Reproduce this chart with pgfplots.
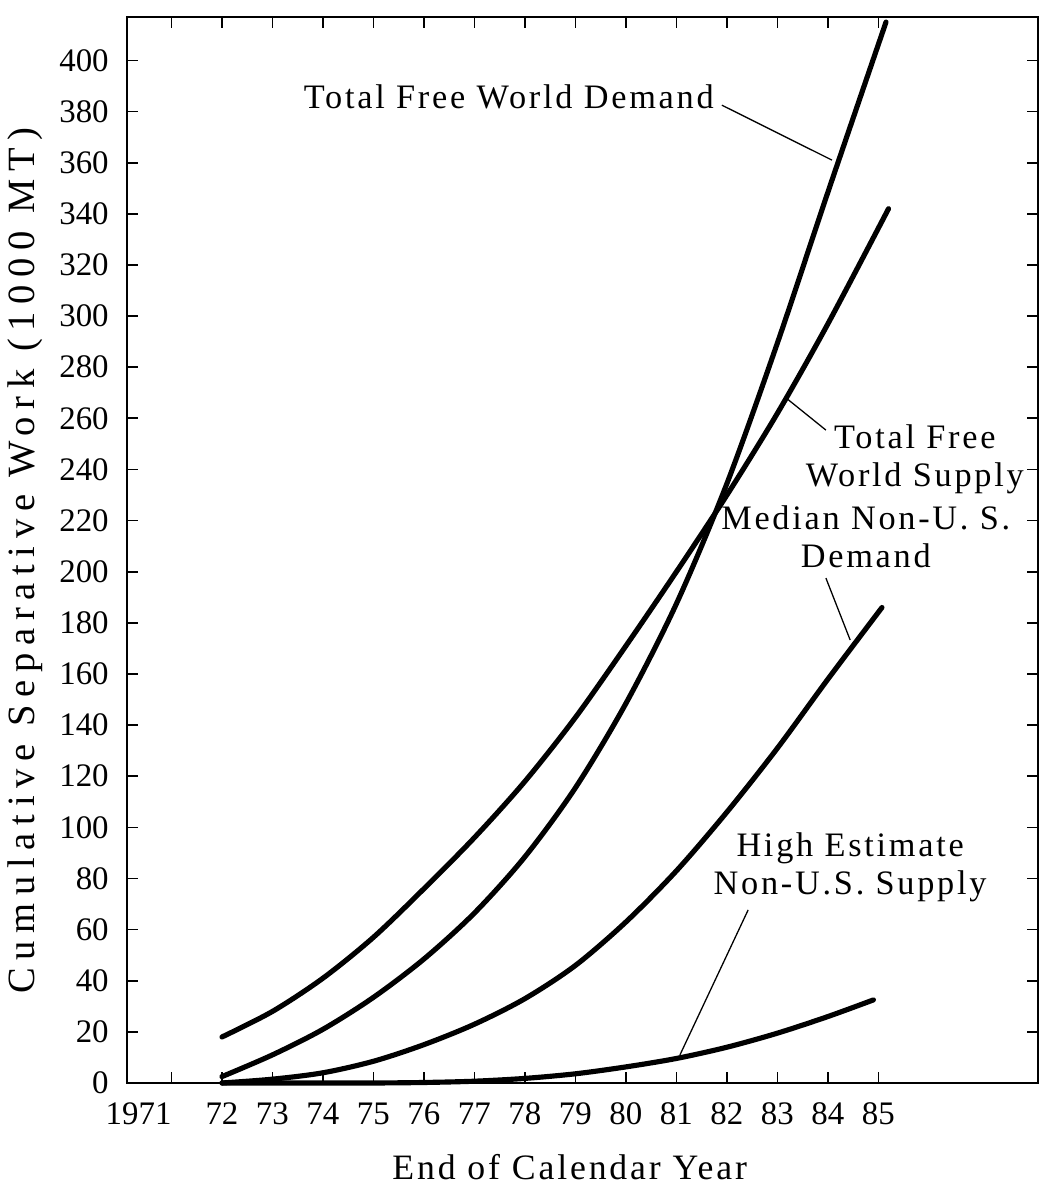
\documentclass[border=0pt]{standalone}
\usepackage{fontspec}
\setmainfont{Liberation Serif}
\newfontfamily\notefont{Liberation Serif}[LetterSpace=8]
\newfontfamily\ylabfont{Liberation Serif}[LetterSpace=20]
\usepackage{pgfplots}
\usepackage{pgfplotstable}
\pgfplotsset{compat=1.18}

% Cumulative separative work, thousands of MT, at end of calendar year
\pgfplotstableread{
year  val
1972  2.5
1973  11
1974  21
1975  33.5
1976  48.5
1977  66.5
1978  88.5
1979  115.5
1980  148.5
1981  187.5
1982  234.5
1983  289.5
1984  348.5
1985.15 415
}\totaldemand

\pgfplotstableread{
year  val
1972  18
1973  28
1974  41
1975  57
1976  76
1977  96
1978  118
1979  143
1980  171
1981  200
1982  230
1983  262
1984  297
1985.2 342
}\totalsupply

\pgfplotstableread{
year  val
1972  0
1973  1.5
1974  4
1975  8.5
1976  15
1977  23
1978  33
1979  46
1980  63
1981  83
1982  106
1983  131
1984  158
1985.07 186
}\mediandemand

\pgfplotstableread{
year  val
1972  0
1973  0
1974  0
1975  0
1976  0.2
1977  0.7
1978  1.8
1979  3.6
1980  6.3
1981  9.6
1982  14
1983  19.5
1984  26
1984.9 32.5
}\highsupply

\begin{document}
\begin{tikzpicture}
\begin{axis}[
  at={(0pt,0pt)}, anchor=south west,
  scale only axis, width=318.85pt, height=373.1pt,
  xmin=1970.12, xmax=1988.16, ymin=0, ymax=417,
  xtick={1971,1972,...,1985},
  xticklabels={\makebox[0pt][r]{1971},72,73,74,75,76,77,78,79,80,81,82,83,84,85},
  ytick={0,20,...,400},
  tick align=inside,
  major tick length=4pt,
  axis line style={line width=1pt},
  every tick/.style={black, line width=0.6pt},
  tick label style={font=\fontsize{11.5}{13}\selectfont},
  /pgf/number format/assume math mode=true,
  yticklabel style={xshift=-2.9pt},
  xticklabel style={yshift=-3.5pt},
  xlabel={End of Calendar Year},
  ylabel={Cumulative Separative Work (1000 MT)},
  every axis x label/.style={at={(axis description cs:0.486,-0.079)}, anchor=center,
    font=\notefont\fontsize{12.5}{14}\selectfont},
  every axis y label/.style={at={(axis description cs:-0.112,0.49)}, rotate=90, anchor=center,
    font=\ylabfont\fontsize{13.5}{15}\selectfont},
  clip=false,
  curve/.style={black, no marks, line width=1.8pt, line cap=round, smooth},
]
\addplot[curve] table[x=year, y=val] {\totaldemand};
\addplot[curve] table[x=year, y=val] {\totalsupply};
\addplot[curve] table[x=year, y=val] {\mediandemand};
\addplot[curve] table[x=year, y=val] {\highsupply};

% curve labels and their leader lines
\tikzset{note/.style={font=\notefont\fontsize{12}{13.3}\selectfont, align=center, anchor=center}}
\node[note] at (axis cs:1977.68,385.6) {Total Free World Demand};
\draw[line width=0.45pt] (axis cs:1981.9,382.5) -- (axis cs:1984.08,361);

\node[note] at (axis cs:1985.72,244) {Total Free\\World Supply};
\draw[line width=0.45pt] (axis cs:1983.15,268.3) -- (axis cs:1983.96,255.4);

\node[note] at (axis cs:1984.75,213.5) {Median Non-U. S.\\Demand};
\draw[line width=0.45pt] (axis cs:1983.96,197.5) -- (axis cs:1984.44,173.3);

\node[note] at (axis cs:1984.44,84.5) {High Estimate\\Non-U.S. Supply};
\draw[line width=0.45pt] (axis cs:1982.42,67.7) -- (axis cs:1981.07,11);
\end{axis}
\pgfresetboundingbox
\path[use as bounding box] (-44.45pt,-40.25pt) rectangle (321.65pt,379.05pt);
\end{tikzpicture}
\end{document}
